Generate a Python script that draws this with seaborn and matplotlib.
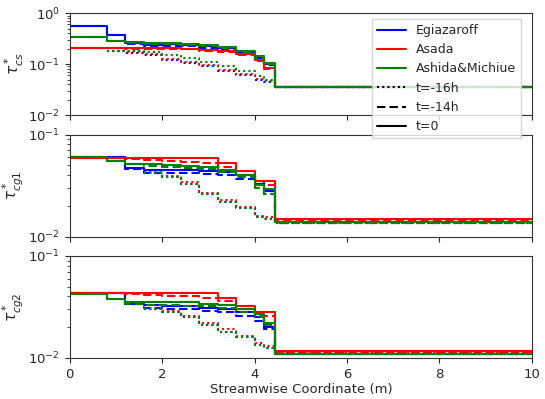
import matplotlib
matplotlib.use("Agg")
import matplotlib.pyplot as plt
import numpy as np
import pandas as pd
import seaborn as sns
from matplotlib.lines import Line2D
from matplotlib.ticker import NullFormatter, LogLocator

nan = np.nan

# breakpoints of the step profiles (m)
x = [0, 0.8, 1.2, 1.6, 2.0, 2.4, 2.8, 3.2, 3.6, 4.0, 4.2, 4.45, 10]

models = ["Egiazaroff", "Asada", "Ashida&Michiue"]
times = ["t=-16h", "t=-14h", "t=0"]
model_colors = {"Egiazaroff": "blue", "Asada": "red", "Ashida&Michiue": "green"}

# tau*_cs
cs_egi_16 = [nan, 0.18, 0.165, 0.15, 0.12, 0.105, 0.09, 0.075, 0.062, 0.05, 0.045, 0.035, 0.035]
cs_egi_14 = [0.55, 0.37, 0.25, 0.23, 0.23, 0.225, 0.21, 0.19, 0.165, 0.125, 0.095, 0.035, 0.035]
cs_egi_0 = [0.55, 0.37, 0.26, 0.24, 0.245, 0.24, 0.225, 0.205, 0.175, 0.135, 0.10, 0.035, 0.035]
cs_asa_16 = [nan, 0.18, 0.17, 0.155, 0.125, 0.11, 0.095, 0.078, 0.064, 0.052, 0.046, 0.035, 0.035]
cs_asa_14 = [0.205, 0.205, 0.2, 0.2, 0.2, 0.195, 0.185, 0.17, 0.15, 0.115, 0.08, 0.035, 0.035]
cs_asa_0 = [0.205, 0.205, 0.205, 0.205, 0.205, 0.2, 0.19, 0.18, 0.155, 0.12, 0.085, 0.035, 0.035]
cs_ash_16 = [nan, 0.18, 0.18, 0.17, 0.15, 0.13, 0.11, 0.09, 0.075, 0.058, 0.048, 0.035, 0.035]
cs_ash_14 = [0.34, 0.28, 0.26, 0.25, 0.245, 0.24, 0.225, 0.205, 0.175, 0.135, 0.10, 0.035, 0.035]
cs_ash_0 = [0.34, 0.28, 0.27, 0.26, 0.255, 0.25, 0.235, 0.215, 0.185, 0.145, 0.105, 0.035, 0.035]

# tau*_cg1
cg1_egi_16 = [nan, nan, nan, 0.042, 0.038, 0.033, 0.026, 0.022, 0.019, 0.0155, 0.015, 0.0135, 0.0135]
cg1_egi_14 = [0.06, 0.06, 0.046, 0.042, 0.042, 0.042, 0.041, 0.040, 0.037, 0.033, 0.026, 0.0135, 0.0135]
cg1_egi_0 = [0.06, 0.06, 0.047, 0.045, 0.045, 0.045, 0.044, 0.043, 0.040, 0.035, 0.028, 0.0138, 0.0138]
cg1_asa_16 = [nan, nan, nan, 0.043, 0.039, 0.034, 0.027, 0.023, 0.0195, 0.016, 0.0155, 0.014, 0.014]
cg1_asa_14 = [0.059, 0.059, 0.057, 0.056, 0.055, 0.054, 0.053, 0.048, 0.040, 0.032, 0.032, 0.0145, 0.0145]
cg1_asa_0 = [0.059, 0.059, 0.059, 0.059, 0.059, 0.059, 0.059, 0.053, 0.044, 0.035, 0.035, 0.0148, 0.0148]
cg1_ash_16 = [nan, nan, nan, 0.042, 0.038, 0.033, 0.026, 0.022, 0.019, 0.0155, 0.015, 0.0135, 0.0135]
cg1_ash_14 = [0.06, 0.055, 0.051, 0.049, 0.048, 0.047, 0.046, 0.043, 0.038, 0.030, 0.026, 0.0135, 0.0135]
cg1_ash_0 = [0.06, 0.055, 0.052, 0.051, 0.050, 0.049, 0.048, 0.045, 0.040, 0.032, 0.029, 0.0138, 0.0138]

# tau*_cg2
cg2_egi_16 = [nan, nan, nan, 0.030, 0.028, 0.025, 0.021, 0.018, 0.016, 0.0135, 0.0125, 0.011, 0.011]
cg2_egi_14 = [0.043, 0.043, 0.034, 0.031, 0.030, 0.030, 0.029, 0.028, 0.026, 0.023, 0.019, 0.0108, 0.0108]
cg2_egi_0 = [0.043, 0.043, 0.034, 0.033, 0.032, 0.032, 0.031, 0.030, 0.028, 0.025, 0.020, 0.011, 0.011]
cg2_asa_16 = [nan, nan, nan, 0.031, 0.029, 0.026, 0.022, 0.019, 0.0165, 0.014, 0.013, 0.0115, 0.0115]
cg2_asa_14 = [0.043, 0.043, 0.042, 0.041, 0.040, 0.040, 0.039, 0.036, 0.030, 0.026, 0.026, 0.0115, 0.0115]
cg2_asa_0 = [0.043, 0.043, 0.043, 0.043, 0.043, 0.043, 0.043, 0.039, 0.032, 0.028, 0.028, 0.0117, 0.0117]
cg2_ash_16 = [nan, nan, nan, 0.030, 0.028, 0.025, 0.021, 0.018, 0.016, 0.0135, 0.0125, 0.011, 0.011]
cg2_ash_14 = [0.042, 0.038, 0.034, 0.033, 0.033, 0.032, 0.032, 0.031, 0.028, 0.025, 0.021, 0.0108, 0.0108]
cg2_ash_0 = [0.042, 0.038, 0.035, 0.035, 0.035, 0.035, 0.034, 0.033, 0.030, 0.027, 0.022, 0.011, 0.011]

panels = {
    r"$\tau^*_{cs}$": [[cs_egi_16, cs_egi_14, cs_egi_0],
                       [cs_asa_16, cs_asa_14, cs_asa_0],
                       [cs_ash_16, cs_ash_14, cs_ash_0]],
    r"$\tau^*_{cg1}$": [[cg1_egi_16, cg1_egi_14, cg1_egi_0],
                        [cg1_asa_16, cg1_asa_14, cg1_asa_0],
                        [cg1_ash_16, cg1_ash_14, cg1_ash_0]],
    r"$\tau^*_{cg2}$": [[cg2_egi_16, cg2_egi_14, cg2_egi_0],
                        [cg2_asa_16, cg2_asa_14, cg2_asa_0],
                        [cg2_ash_16, cg2_ash_14, cg2_ash_0]],
}
ylims = [(1e-2, 1e0), (1e-2, 1e-1), (1e-2, 1e-1)]

sns.set_style("ticks")
plt.rcParams["font.family"] = ["DejaVu Sans"]
plt.rcParams["xtick.labelsize"] = 9.5
plt.rcParams["ytick.labelsize"] = 9.5

fig, axes = plt.subplots(3, 1, figsize=(5.45, 3.99), dpi=100, sharex=True)
fig.subplots_adjust(left=0.128, right=0.976, top=0.967, bottom=0.103, hspace=0.19)

dash_map = {"t=-16h": (1, 1.5), "t=-14h": (4, 2), "t=0": ""}

for ax, (label, series), ylim in zip(axes, panels.items(), ylims):
    rows = []
    for m, per_model in zip(models, series):
        for t, vals in zip(times, per_model):
            for xi, v in zip(x, vals):
                rows.append({"x": xi, "tau": v, "model": m, "time": t})
    df = pd.DataFrame(rows).dropna()
    sns.lineplot(data=df, x="x", y="tau", hue="model", style="time",
                 hue_order=models, style_order=times, palette=model_colors,
                 dashes=dash_map, estimator=None, drawstyle="steps-post",
                 linewidth=1.5, legend=False, ax=ax)
    ax.set_yscale("log")
    ax.set_ylim(*ylim)
    ax.set_xlim(0, 10)
    ax.yaxis.set_major_locator(LogLocator(base=10))
    ax.yaxis.set_minor_locator(LogLocator(base=10, subs=np.arange(2, 10)))
    ax.yaxis.set_minor_formatter(NullFormatter())
    ax.set_ylabel(label, fontsize=11)
    ax.yaxis.set_label_coords(-0.095, 0.5)
    ax.set_xlabel("")
    for s in ax.spines.values():
        s.set_visible(True)
        s.set_color("#333333")

axes[-1].set_xlabel("Streamwise Coordinate (m)", fontsize=9.5, labelpad=2)
axes[-1].set_xticks([0, 2, 4, 6, 8, 10])

# keep the legend of the top panel above the middle panel
axes[0].set_zorder(5)

handles = [Line2D([], [], color=model_colors[m], lw=1.5) for m in models]
handles += [Line2D([], [], color="black", lw=1.5, dashes=dash_map["t=-16h"]),
            Line2D([], [], color="black", lw=1.5, dashes=dash_map["t=-14h"]),
            Line2D([], [], color="black", lw=1.5)]
leg = axes[0].legend(handles, models + times, loc="upper right",
                     bbox_to_anchor=(0.99, 1.005), fontsize=9, handlelength=2.3,
                     fancybox=False)

fig.savefig("out.png", dpi=100)
